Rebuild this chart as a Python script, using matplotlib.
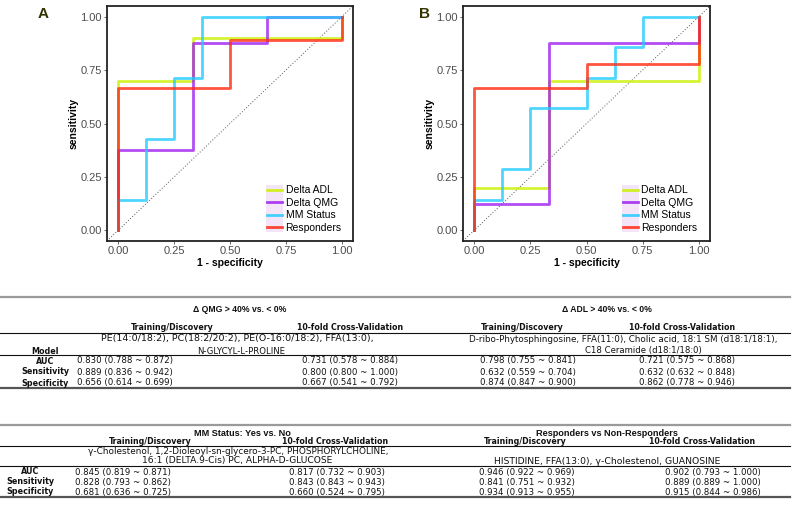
import matplotlib
matplotlib.use("Agg")
import matplotlib.pyplot as plt
from matplotlib.lines import Line2D
from matplotlib.patches import Rectangle

plt.rcParams['font.family'] = ['Liberation Sans', 'DejaVu Sans']

# ---------------- ROC data ----------------
series_names = ["Delta ADL", "Delta QMG", "MM Status", "Responders"]
series_colors = ["#CCF000", "#A020F0", "#22CCFF", "#FF2A10"]

# Panel A (fpr, tpr corner points)
a_adl_fpr = [0, 0, 0.333, 1]
a_adl_tpr = [0, 0.70, 0.90, 1.0]
a_qmg_fpr = [0, 0, 0.333, 0.667, 1]
a_qmg_tpr = [0, 0.375, 0.875, 1.0, 1.0]
a_mm_fpr = [0, 0, 0.125, 0.25, 0.375, 1]
a_mm_tpr = [0, 0.143, 0.429, 0.714, 1.0, 1.0]
a_resp_fpr = [0, 0, 0.5, 1]
a_resp_tpr = [0, 0.667, 0.889, 1.0]

# Panel B
b_adl_fpr = [0, 0, 0.333, 1]
b_adl_tpr = [0, 0.20, 0.70, 1.0]
b_qmg_fpr = [0, 0, 0.333, 1]
b_qmg_tpr = [0, 0.125, 0.875, 1.0]
b_mm_fpr = [0, 0, 0.125, 0.25, 0.5, 0.625, 0.75, 1]
b_mm_tpr = [0, 0.143, 0.286, 0.571, 0.714, 0.857, 1.0, 1.0]
b_resp_fpr = [0, 0, 0.5, 1]
b_resp_tpr = [0, 0.667, 0.778, 1.0]

ticks = [0.00, 0.25, 0.50, 0.75, 1.00]

# ---------------- Table data ----------------
row_labels = ["AUC", "Sensitivity", "Specificity"]
col_headers = ["Training/Discovery", "10-fold Cross-Validation"]

qmg_title = "\u0394 QMG > 40% vs. < 0%"
qmg_features = ["PE(14:0/18:2), PC(18:2/20:2), PE(O-16:0/18:2), FFA(13:0),",
                "N-GLYCYL-L-PROLINE"]
qmg_train = [(0.830, 0.788, 0.872), (0.889, 0.836, 0.942), (0.656, 0.614, 0.699)]
qmg_cv = [(0.731, 0.578, 0.884), (0.800, 0.800, 1.000), (0.667, 0.541, 0.792)]

adl_title = "\u0394 ADL > 40% vs. < 0%"
adl_features = ["D-ribo-Phytosphingosine, FFA(11:0), Cholic acid, 18:1 SM (d18:1/18:1),",
                "C18 Ceramide (d18:1/18:0)"]
adl_train = [(0.798, 0.755, 0.841), (0.632, 0.559, 0.704), (0.874, 0.847, 0.900)]
adl_cv = [(0.721, 0.575, 0.868), (0.632, 0.632, 0.848), (0.862, 0.778, 0.946)]

mm_title = "MM Status: Yes vs. No"
mm_features = ["\u03b3-Cholestenol, 1,2-Dioleoyl-sn-glycero-3-PC, PHOSPHORYLCHOLINE,",
               "16:1 (DELTA.9-Cis) PC, ALPHA-D-GLUCOSE"]
mm_train = [(0.845, 0.819, 0.871), (0.828, 0.793, 0.862), (0.681, 0.636, 0.725)]
mm_cv = [(0.817, 0.732, 0.903), (0.843, 0.843, 0.943), (0.660, 0.524, 0.795)]

resp_title = "Responders vs Non-Responders"
resp_features = ["HISTIDINE, FFA(13:0), \u03b3-Cholestenol, GUANOSINE"]
resp_train = [(0.946, 0.922, 0.969), (0.841, 0.751, 0.932), (0.934, 0.913, 0.955)]
resp_cv = [(0.902, 0.793, 1.000), (0.889, 0.889, 1.000), (0.915, 0.844, 0.986)]

W, H = 800, 521
fig = plt.figure(figsize=(W / 100, H / 100), dpi=100)


def px_axes(x0, y0, x1, y1):
    return fig.add_axes([x0 / W, 1 - y1 / H, (x1 - x0) / W, (y1 - y0) / H])


def roc_panel(ax, data, letter, lx, leg_x):
    ax.axline((0, 0), (1, 1), color="#555555", lw=0.7, ls=(0, (1, 2)), zorder=1)
    for (fpr, tpr), name, col in zip(data, series_names, series_colors):
        ax.plot(fpr, tpr, drawstyle="steps-post", color=col, lw=2.0,
                alpha=0.8, label=name, zorder=2)
    ax.set_xlim(-0.05, 1.05)
    ax.set_ylim(-0.05, 1.05)
    ax.set_xticks(ticks)
    ax.set_yticks(ticks)
    ax.set_xticklabels([f"{t:.2f}" for t in ticks])
    ax.set_yticklabels([f"{t:.2f}" for t in ticks])
    ax.tick_params(labelsize=8, colors="#4D4D4D", length=2.2, width=0.6,
                   labelcolor="#4D4D4D", pad=1.5)
    for sp in ax.spines.values():
        sp.set_linewidth(1.3)
        sp.set_color("#222222")
    ax.set_xlabel("1 - specificity", fontsize=7.5, fontweight="bold", labelpad=1)
    ax.set_ylabel("sensitivity", fontsize=7.5, fontweight="bold", labelpad=1.5)
    leg = ax.legend(loc="lower right", bbox_to_anchor=(leg_x, 0.012), frameon=False,
                    fontsize=7.5, handlelength=1.45, handletextpad=0.35,
                    labelspacing=0.24, borderpad=0.0)
    for h in leg.legend_handles:
        h.set_linewidth(2.0)
        h.set_alpha(0.85)
    fig.text(lx / W, 1 - 14 / H, letter, fontsize=11, fontweight="bold",
             color="#333300", ha="center", va="center")
    return leg


axA = px_axes(107, 6, 353, 241)
legA = roc_panel(axA, [(a_adl_fpr, a_adl_tpr), (a_qmg_fpr, a_qmg_tpr),
                       (a_mm_fpr, a_mm_tpr), (a_resp_fpr, a_resp_tpr)], "A", 43, 0.975)
axB = px_axes(463, 6, 710, 241)
legB = roc_panel(axB, [(b_adl_fpr, b_adl_tpr), (b_qmg_fpr, b_qmg_tpr),
                       (b_mm_fpr, b_mm_tpr), (b_resp_fpr, b_resp_tpr)], "B", 425, 0.97)

# lavender key background behind legend handles
fig.canvas.draw()
renderer = fig.canvas.get_renderer()
for ax, leg in [(axA, legA), (axB, legB)]:
    bbs = [h.get_window_extent(renderer) for h in leg.legend_handles]
    x0 = min(b.x0 for b in bbs) - 1
    x1 = max(b.x1 for b in bbs) + 1
    y0 = min(b.y0 for b in bbs) - 5
    y1 = max(b.y1 for b in bbs) + 5
    inv = ax.transAxes.inverted()
    (ax0, ay0) = inv.transform((x0, y0))
    (ax1, ay1) = inv.transform((x1, y1))
    ax.add_patch(Rectangle((ax0, ay0), ax1 - ax0, ay1 - ay0, transform=ax.transAxes,
                           facecolor="#F3E4F8", edgecolor="none", zorder=0))

# ---------------- Tables ----------------
TFONT = ["DejaVu Sans"]


def ptext(x, y, s, bold=False, size=6.2, ha="center", family=None):
    fig.text(x / W, 1 - y / H, s, fontsize=size, ha=ha, va="center",
             family=family or TFONT,
             fontweight="bold" if bold else "normal", color="#111111")


def hline(y, lw=0.8, color="#111111", x0=0, x1=790):
    fig.add_artist(Line2D([x0 / W, x1 / W], [1 - y / H, 1 - y / H], lw=lw,
                          color=color, transform=fig.transFigure))


def fmt(v):
    return f"{v[0]:.3f} ({v[1]:.3f} ~ {v[2]:.3f})"


def table(ytop, yhead, ycol, yline1, yfeat, yline2, yrows, ybot, label_x, model_y,
          title_size, blocks):
    hline(ytop, lw=1.6, color="#9A9A9A")
    hline(yline1, lw=0.8)
    hline(yline2, lw=0.8)
    hline(ybot, lw=1.6, color="#555555")
    if model_y is not None:
        ptext(label_x, model_y, "Model", bold=True, size=5.8)
    for yr, lab in zip(yrows, row_labels):
        ptext(label_x, yr, lab, bold=True, size=5.8)
    for blk in blocks:
        title, tcx, cols, feats, fcx, fsizes, trains, cvs, vcols = blk
        ptext(tcx, yhead, title, bold=True, size=title_size, family=["Liberation Sans"])
        for cx, ch in zip(cols, col_headers):
            ptext(cx, ycol, ch, bold=True, size=5.7)
        fys = yfeat if len(feats) == len(yfeat) else yfeat[-len(feats):]
        for fy, fs, fz, fx in zip(fys, feats, fsizes, fcx):
            ptext(fx, fy, fs, size=fz)
        for yr, tv, cv in zip(yrows, trains, cvs):
            ptext(vcols[0], yr, fmt(tv))
            ptext(vcols[1], yr, fmt(cv))


table(297, 309, 327, 333, [339, 351], 355, [361, 372, 383], 388, 45, 351, 6.2,
      [(qmg_title, 240, [172, 350], qmg_features, [237, 241], [6.8, 6.1],
        qmg_train, qmg_cv, [125, 350]),
       (adl_title, 607, [522, 682], adl_features, [623, 643], [6.3, 6.1],
        adl_train, adl_cv, [528, 687])])

table(425, 433, 442, 446, [451, 461], 466, [472, 482, 492], 497, 30, None, 6.6,
      [(mm_title, 242, [150, 335], mm_features, [238, 237], [6.4, 6.6],
        mm_train, mm_cv, [123, 337]),
       (resp_title, 607, [525, 702], resp_features, [607], [6.7],
        resp_train, resp_cv, [527, 713])])

fig.savefig("out.png", dpi=100)
